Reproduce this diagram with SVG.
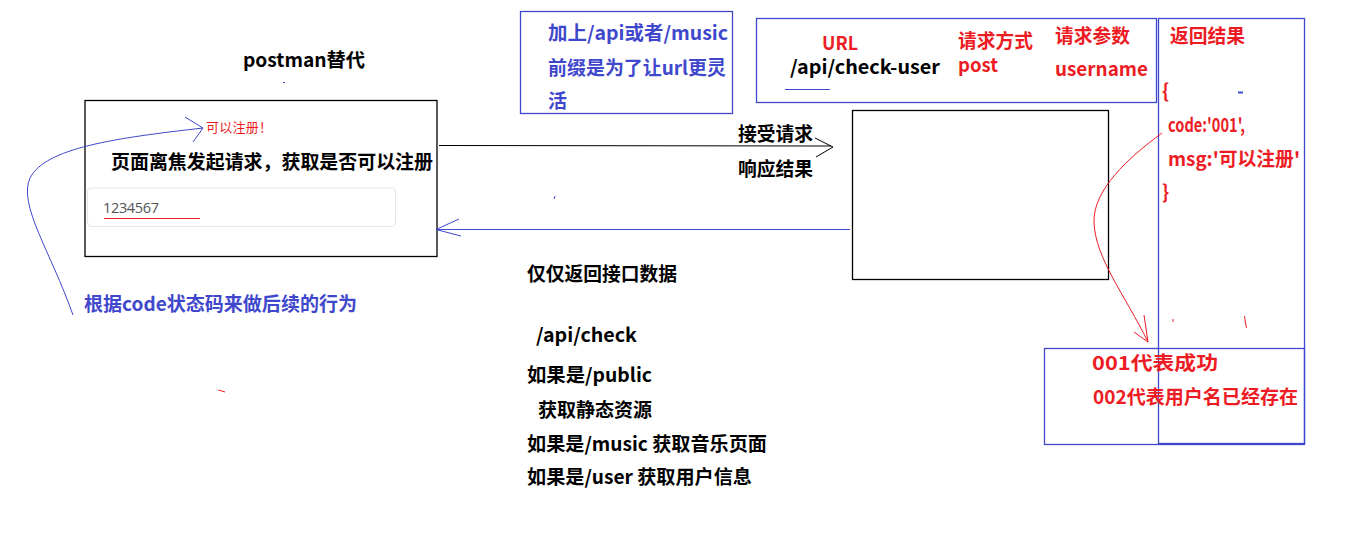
<svg xmlns="http://www.w3.org/2000/svg" width="1368" height="554" viewBox="0 0 1368 554">
<style>
.t{font-family:"Noto Sans CJK SC","Liberation Sans",sans-serif;font-size:19px;font-weight:bold}
.k{fill:#000}
.r{fill:#ed1c24}
.b{fill:#3f48cc}
.box{fill:none;stroke:#000;stroke-width:1.3}
.bbox{fill:none;stroke:#3f48cc;stroke-width:1.3}
.ln{fill:none;stroke-width:1}
</style>
<rect width="1368" height="554" fill="#fff"/>
<g id="title"><text class="t k" x="243" y="67" textLength="122" lengthAdjust="spacingAndGlyphs">postman替代</text></g>
<g id="page-box">
<rect class="box" x="85" y="100.5" width="352" height="156"/>
<text x="206" y="132" font-family="Noto Sans CJK SC,Liberation Sans,sans-serif" font-size="13" fill="#ed1c24" textLength="66">可以注册！</text>
<text class="t k" x="111" y="169" textLength="322" lengthAdjust="spacingAndGlyphs">页面离焦发起请求，获取是否可以注册</text>
<rect x="87.5" y="188" width="308" height="38.5" rx="4" fill="#fff" stroke="#e6e6e6" stroke-width="1.2"/>
<text x="103" y="213" font-family="Open Sans,Liberation Sans,sans-serif" font-size="14.5" fill="#555" textLength="56">1234567</text>
<line x1="104" y1="218.5" x2="200" y2="218.5" stroke="#ed1c24" stroke-width="1"/>
</g>
<g id="behavior-note"><text class="t b" x="84" y="311" textLength="273" lengthAdjust="spacingAndGlyphs">根据code状态码来做后续的行为</text></g>
<g id="prefix-note">
<rect class="bbox" x="520.5" y="11.5" width="212" height="102"/>
<text class="t b" x="548" y="40" textLength="180" lengthAdjust="spacingAndGlyphs">加上/api或者/music</text>
<text class="t b" x="548" y="75" textLength="178" lengthAdjust="spacingAndGlyphs">前缀是为了让url更灵</text>
<text class="t b" x="548" y="108">活</text>
</g>
<g id="request-info">
<rect class="bbox" x="756.5" y="18.5" width="400" height="84"/>
<text class="t r" x="822" y="50" textLength="36" lengthAdjust="spacingAndGlyphs">URL</text>
<text class="t k" x="790" y="74" textLength="150" lengthAdjust="spacingAndGlyphs">/api/check-user</text>
<line x1="785" y1="89.5" x2="830" y2="89.5" stroke="#3f48cc" stroke-width="1"/>
<text class="t r" x="958" y="48" textLength="75" lengthAdjust="spacingAndGlyphs">请求方式</text>
<text class="t r" x="958" y="72" textLength="40" lengthAdjust="spacingAndGlyphs">post</text>
<text class="t r" x="1055" y="43" textLength="75" lengthAdjust="spacingAndGlyphs">请求参数</text>
<text class="t r" x="1055" y="76" textLength="93" lengthAdjust="spacingAndGlyphs">username</text>
</g>
<g id="result-box">
<rect class="bbox" x="1158.5" y="18.5" width="146" height="425"/>
<text class="t r" x="1170" y="43" textLength="75" lengthAdjust="spacingAndGlyphs">返回结果</text>
<text class="t r" x="1162" y="98">{</text>
<line x1="1238" y1="92.5" x2="1243" y2="92.5" stroke="#3f48cc" stroke-width="2"/>
<text class="t r" x="1168" y="132" textLength="77" lengthAdjust="spacingAndGlyphs">code:'001',</text>
<text class="t r" x="1168" y="166" textLength="132" lengthAdjust="spacingAndGlyphs">msg:'可以注册'</text>
<text class="t r" x="1162" y="199">}</text>
<line x1="1173" y1="319" x2="1173" y2="322" stroke="#ed1c24" stroke-width="1"/>
<polyline class="ln" stroke="#ed1c24" points="1244.5,316 1245.5,323 1246.5,328"/>
</g>
<g id="code-box">
<rect class="bbox" x="1044.5" y="348.5" width="260" height="96"/>
<text class="t r" x="1092" y="370" textLength="126" lengthAdjust="spacingAndGlyphs">001代表成功</text>
<text class="t r" x="1093" y="404" textLength="205" lengthAdjust="spacingAndGlyphs">002代表用户名已经存在</text>
</g>
<g id="server-box"><rect class="box" x="852.5" y="110.5" width="256" height="169"/></g>
<g id="labels">
<text class="t k" x="738" y="141" textLength="75" lengthAdjust="spacingAndGlyphs">接受请求</text>
<text class="t k" x="738" y="176" textLength="75" lengthAdjust="spacingAndGlyphs">响应结果</text>
<text class="t k" x="527" y="281" textLength="150" lengthAdjust="spacingAndGlyphs">仅仅返回接口数据</text>
<text class="t k" x="536" y="342" textLength="101" lengthAdjust="spacingAndGlyphs">/api/check</text>
<text class="t k" x="527" y="382" textLength="125" lengthAdjust="spacingAndGlyphs">如果是/public</text>
<text class="t k" x="538" y="417" textLength="114" lengthAdjust="spacingAndGlyphs">获取静态资源</text>
<text class="t k" x="527" y="451" textLength="240" lengthAdjust="spacingAndGlyphs">如果是/music 获取音乐页面</text>
<text class="t k" x="527" y="484" textLength="225" lengthAdjust="spacingAndGlyphs">如果是/user 获取用户信息</text>
</g>
<g id="connectors">
<line class="ln" stroke="#000" x1="439" y1="145.5" x2="831" y2="146"/>
<polyline class="ln" stroke="#000" points="815,138 833,147 816,157"/>
<line class="ln" stroke="#3f48cc" x1="850" y1="229.5" x2="437" y2="229.5"/>
<polyline class="ln" stroke="#3f48cc" points="459,219 436,229.5 461,236"/>
<path class="ln" stroke="#3f48cc" d="M73,315 C50,250 18,205 30,178 C45,148 115,138 203,128"/>
<polyline class="ln" stroke="#3f48cc" points="185,117 203,128 193,142"/>
<path class="ln" stroke="#ed1c24" d="M1162,133 C1128,158 1093,190 1094,222 C1095,258 1125,295 1148,342"/>
<polyline class="ln" stroke="#ed1c24" points="1144,315 1148,342 1134,332"/>
<line x1="283" y1="82.5" x2="285" y2="82.5" stroke="#3f48cc" stroke-width="1"/>
<line x1="555" y1="196" x2="554" y2="199" stroke="#3f48cc" stroke-width="1"/>
<polyline class="ln" stroke="#ed1c24" points="218,390 222,391 225,392"/>
</g>
</svg>
